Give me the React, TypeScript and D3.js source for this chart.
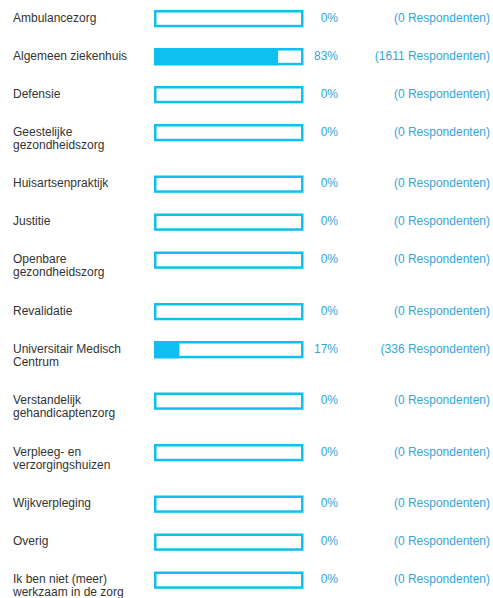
import React, {FC, useEffect, useRef} from 'react';
import * as d3 from 'd3';

// labels (each inner array = lines of the label)
const categories: string[][] = [
  ['Ambulancezorg'],
  ['Algemeen ziekenhuis'],
  ['Defensie'],
  ['Geestelijke', 'gezondheidszorg'],
  ['Huisartsenpraktijk'],
  ['Justitie'],
  ['Openbare', 'gezondheidszorg'],
  ['Revalidatie'],
  ['Universitair Medisch', 'Centrum'],
  ['Verstandelijk', 'gehandicaptenzorg'],
  ['Verpleeg- en', 'verzorgingshuizen'],
  ['Wijkverpleging'],
  ['Overig'],
  ['Ik ben niet (meer)', 'werkzaam in de zorg'],
];
const percentages = [0, 83, 0, 0, 0, 0, 0, 0, 17, 0, 0, 0, 0, 0];
const respondents = [0, 1611, 0, 0, 0, 0, 0, 0, 336, 0, 0, 0, 0, 0];

const WIDTH = 493;
const HEIGHT = 598;
const BLUE = '#0fbfef';
const TEXT_BLUE = '#34a6d9';

const Bars: FC = () => {
  const ref = useRef<SVGSVGElement>(null);

  useEffect(() => {
    const svg = d3.select(ref.current);
    svg.selectAll('*').remove();

    const lineHeight = 13.5;
    const rowBase = 24.5;

    // cumulative row tops
    const tops: number[] = [];
    let acc = 10;
    categories.forEach(c => {
      tops.push(acc);
      acc += rowBase + lineHeight * c.length;
    });

    const x = d3.scaleLinear().domain([0, 100]).range([154, 303.5]);
    const boxH = 17.3;
    const sw = 2.5;

    const rows = svg
      .selectAll('g.row')
      .data(categories.map((c, i) => ({c, i})))
      .enter()
      .append('g')
      .attr('class', 'row')
      .attr('transform', d => `translate(0, ${tops[d.i]})`);

    // labels
    rows
      .append('text')
      .attr('x', 13)
      .attr('y', 11.6)
      .attr('fill', '#333')
      .style('font-family', 'Liberation Sans, Arial, sans-serif')
      .style('font-size', '12px')
      .selectAll('tspan')
      .data(d => d.c)
      .enter()
      .append('tspan')
      .attr('x', 13)
      .attr('dy', (_, j) => (j === 0 ? 0 : 13.2))
      .text(d => d);

    // filled part
    rows
      .append('rect')
      .attr('x', x(0))
      .attr('y', 0)
      .attr('width', d => x(percentages[d.i]) - x(0))
      .attr('height', boxH)
      .attr('fill', BLUE);

    // outline
    rows
      .append('rect')
      .attr('x', x(0) + sw / 2)
      .attr('y', sw / 2)
      .attr('width', x(100) - x(0) - sw)
      .attr('height', boxH - sw)
      .attr('fill', 'none')
      .attr('stroke', BLUE)
      .attr('stroke-width', sw);

    // percentage
    rows
      .append('text')
      .attr('x', 338)
      .attr('y', 11.6)
      .attr('text-anchor', 'end')
      .attr('fill', TEXT_BLUE)
      .style('font-family', 'Liberation Sans, Arial, sans-serif')
      .style('font-size', '12px')
      .text(d => `${percentages[d.i]}%`);

    // respondents
    rows
      .append('text')
      .attr('x', 490)
      .attr('y', 11.6)
      .attr('text-anchor', 'end')
      .attr('fill', TEXT_BLUE)
      .style('font-family', 'Liberation Sans, Arial, sans-serif')
      .style('font-size', '12px')
      .text(d => `(${respondents[d.i]} Respondenten)`);
  }, []);

  return (
    <svg
      ref={ref}
      width={WIDTH}
      height={HEIGHT}
      style={{position: 'absolute', left: 0, top: 0, background: '#fff'}}
    />
  );
};

export default function App() {
  return <Bars />;
}
